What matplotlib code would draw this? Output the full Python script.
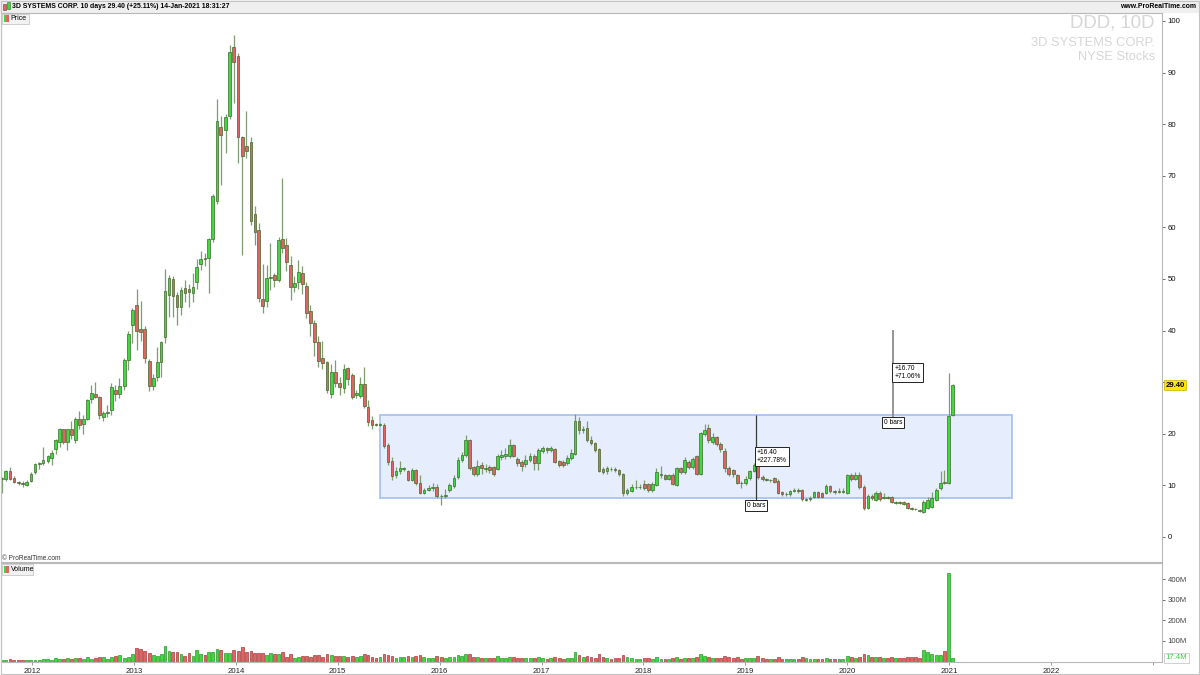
import numpy as np
import pandas as pd
import matplotlib
matplotlib.use("Agg")
import matplotlib.pyplot as plt
import matplotlib.dates as mdates
from matplotlib.patches import Rectangle
from matplotlib.ticker import FuncFormatter
from pandas.tseries.holiday import USFederalHolidayCalendar
from pandas.tseries.offsets import CustomBusinessDay

# 10-day candles, 3D Systems (DDD), last bar 14-Jan-2021
opens = [
    11.3, 11.2, 12.7, 11.4, 10.7, 10.4, 10.1, 10.9, 12.5, 14.1,
    14.3, 14.8, 15.4, 17.0, 18.4, 20.9, 18.4, 20.9, 18.7, 22.8,
    21.8, 22.9, 26.7, 27.8, 27.1, 23.3, 24.0, 24.6, 28.4, 27.8,
    29.3, 34.3, 41.1, 45.0, 40.3, 40.4, 34.1, 29.3, 31.0, 34.0,
    38.7, 46.9, 50.0, 46.9, 44.6, 48.3, 48.0, 47.3, 49.4, 52.9,
    54.1, 54.0, 57.7, 65.2, 79.4, 78.9, 81.6, 94.9, 93.3, 77.6,
    75.8, 76.6, 62.6, 59.5, 46.1, 45.8, 50.2, 50.8, 49.9, 57.7,
    56.6, 52.7, 48.5, 49.4, 51.1, 48.6, 43.8, 41.5, 37.8, 34.6,
    33.9, 27.8, 32.0, 29.9, 28.8, 32.7, 31.4, 27.5, 27.3, 29.7,
    25.1, 22.7, 21.8, 21.7, 21.7, 17.8, 14.8, 12.0, 12.7, 13.2,
    12.8, 11.0, 13.0, 10.4, 8.6, 9.2, 9.4, 9.7, 8.0, 7.9,
    9.1, 9.9, 11.6, 14.9, 15.9, 18.7, 13.5, 12.3, 13.9, 13.1,
    13.5, 13.5, 13.1, 15.5, 15.7, 15.6, 17.8, 15.1, 14.6, 14.1,
    15.0, 15.7, 14.3, 16.7, 17.3, 16.9, 17.0, 14.7, 14.6, 14.4,
    15.3, 16.1, 22.5, 20.8, 21.2, 18.8, 18.2, 17.0, 13.1, 12.7,
    13.2, 13.2, 13.0, 12.2, 8.6, 9.0, 9.6, 9.6, 10.3, 10.3,
    9.1, 10.1, 12.1, 12.0, 11.3, 12.0, 10.1, 13.3, 12.5, 14.6,
    13.5, 15.6, 12.2, 20.0, 21.1, 18.5, 19.3, 18.0, 16.7, 13.3,
    13.0, 12.0, 10.5, 10.5, 11.4, 12.8, 14.0, 11.7, 11.2, 11.0,
    11.4, 10.9, 8.8, 8.3, 8.3, 9.0, 9.2, 9.1, 7.2, 7.3,
    7.8, 8.7, 8.5, 8.5, 9.9, 8.9, 8.7, 8.8, 8.6, 12.0,
    11.2, 12.0, 9.7, 5.7, 8.0, 7.2, 8.6, 7.6, 7.8, 7.8,
    6.6, 6.8, 6.8, 6.5, 5.6, 5.5, 5.2, 4.9, 5.7, 5.8,
    7.2, 9.4, 10.7, 10.4, 23.6,
]
highs = [
    11.6, 13.0, 13.5, 11.8, 10.9, 10.8, 11.0, 12.5, 14.3, 14.6,
    17.4, 15.8, 16.8, 19.0, 21.1, 21.0, 21.0, 22.5, 23.2, 24.5,
    23.6, 26.8, 29.5, 30.0, 27.4, 24.5, 25.6, 29.9, 29.5, 30.8,
    34.7, 40.0, 44.3, 48.1, 45.8, 40.8, 34.5, 31.5, 36.8, 38.0,
    51.9, 50.8, 50.5, 47.5, 48.5, 49.8, 49.0, 51.2, 53.8, 55.5,
    55.0, 58.0, 66.5, 84.9, 81.5, 82.0, 95.3, 97.3, 93.8, 77.8,
    82.6, 77.5, 64.2, 60.8, 52.9, 52.8, 57.0, 51.2, 58.2, 69.5,
    58.0, 54.5, 50.5, 53.6, 52.5, 49.5, 45.0, 42.0, 39.0, 38.0,
    34.2, 33.5, 34.3, 31.0, 33.5, 33.0, 31.8, 28.5, 31.0, 33.0,
    26.5, 23.5, 22.0, 22.0, 22.0, 18.2, 15.5, 13.5, 14.8, 13.5,
    13.0, 13.4, 13.2, 12.0, 9.5, 10.0, 10.5, 10.2, 8.3, 9.3,
    10.4, 12.0, 15.5, 16.4, 19.8, 19.0, 13.8, 15.0, 14.5, 14.2,
    14.0, 13.8, 16.0, 16.8, 17.2, 18.9, 18.0, 15.5, 15.0, 15.8,
    16.3, 16.0, 17.2, 17.6, 17.5, 17.6, 17.3, 15.0, 14.9, 15.8,
    17.0, 23.8, 23.2, 21.5, 22.5, 19.5, 18.5, 17.3, 13.5, 13.8,
    13.5, 13.5, 13.2, 12.4, 9.5, 10.2, 11.0, 10.2, 11.0, 10.5,
    10.6, 13.3, 13.8, 12.3, 12.2, 12.4, 13.6, 13.6, 15.5, 15.0,
    15.5, 15.9, 20.4, 21.9, 21.9, 20.2, 19.6, 18.5, 17.2, 13.8,
    13.2, 12.3, 10.8, 11.8, 13.0, 14.3, 14.5, 12.0, 11.4, 11.3,
    11.6, 11.2, 9.0, 8.8, 9.2, 9.4, 9.4, 9.3, 7.6, 8.0,
    8.9, 8.9, 8.8, 10.2, 10.1, 9.2, 9.5, 9.4, 12.3, 12.4,
    12.5, 12.6, 10.0, 8.3, 8.3, 8.9, 8.9, 8.6, 8.0, 8.0,
    7.0, 7.0, 7.0, 6.7, 5.8, 5.7, 5.4, 7.2, 7.8, 8.8,
    9.4, 12.7, 13.0, 31.7, 29.6,
]
lows = [
    8.6, 10.9, 11.0, 10.5, 10.1, 9.6, 9.8, 10.7, 12.3, 13.2,
    13.9, 14.3, 13.9, 16.0, 17.5, 18.1, 16.9, 19.0, 18.3, 21.0,
    20.0, 22.6, 26.0, 26.9, 22.8, 22.4, 23.3, 23.7, 26.3, 26.9,
    28.5, 32.4, 37.6, 36.2, 38.0, 33.8, 28.2, 28.5, 30.2, 31.1,
    37.5, 42.6, 42.7, 41.1, 43.0, 45.5, 44.5, 45.5, 48.0, 51.8,
    52.5, 47.3, 57.2, 64.5, 68.2, 74.4, 81.0, 84.1, 72.5, 54.7,
    73.5, 60.5, 56.5, 45.5, 43.4, 44.5, 47.8, 48.5, 49.5, 55.0,
    51.5, 46.0, 47.5, 48.0, 47.0, 42.5, 39.0, 35.0, 33.0, 32.5,
    28.0, 27.0, 29.0, 27.5, 28.0, 29.5, 26.8, 27.0, 27.0, 25.0,
    21.5, 21.0, 21.5, 21.5, 17.2, 14.0, 11.0, 11.5, 12.3, 12.8,
    10.8, 10.8, 10.0, 8.3, 8.3, 8.9, 9.0, 7.6, 6.2, 7.6,
    8.8, 9.5, 11.2, 14.5, 15.5, 13.0, 11.8, 11.8, 12.2, 12.6,
    12.4, 11.8, 12.9, 15.0, 15.2, 15.3, 15.5, 13.8, 12.8, 13.5,
    14.5, 13.0, 13.0, 16.2, 16.3, 16.5, 14.3, 13.5, 13.6, 14.0,
    15.0, 15.8, 20.0, 20.2, 18.5, 17.8, 16.5, 12.5, 12.2, 12.3,
    12.7, 12.5, 11.8, 8.0, 8.2, 8.7, 9.3, 9.3, 9.2, 8.8,
    8.8, 9.8, 11.5, 11.0, 11.0, 10.0, 9.8, 12.2, 12.2, 13.2,
    13.2, 12.0, 12.0, 19.6, 18.3, 18.0, 17.6, 16.5, 12.5, 11.8,
    11.7, 10.2, 9.5, 10.1, 11.0, 12.5, 11.3, 10.9, 10.8, 10.7,
    10.5, 8.3, 8.0, 8.0, 8.0, 8.7, 8.6, 7.0, 6.9, 7.0,
    7.5, 7.5, 7.5, 8.3, 8.6, 8.4, 8.5, 8.6, 8.4, 10.8,
    11.0, 9.3, 5.2, 5.4, 7.2, 7.0, 7.0, 7.3, 7.3, 6.6,
    6.4, 6.3, 6.2, 5.4, 5.3, 5.2, 4.8, 4.6, 5.4, 5.6,
    7.0, 9.2, 10.3, 10.2, 23.5,
]
closes = [
    11.4, 12.7, 11.2, 10.7, 10.5, 10.3, 10.7, 12.3, 14.1, 14.3,
    14.9, 15.6, 16.3, 18.7, 20.9, 18.4, 20.9, 19.8, 22.8, 21.7,
    22.8, 26.6, 28.0, 27.2, 23.6, 24.1, 24.3, 29.1, 27.7, 29.3,
    34.3, 39.3, 43.9, 39.9, 39.8, 34.6, 29.3, 30.9, 33.9, 37.7,
    47.7, 50.2, 46.7, 44.6, 47.9, 47.3, 47.5, 48.4, 52.3, 53.8,
    53.8, 57.7, 66.1, 80.6, 78.0, 81.3, 94.0, 92.0, 77.6, 73.8,
    74.9, 61.2, 59.2, 46.3, 44.8, 50.1, 50.4, 49.9, 57.6, 56.0,
    53.2, 48.5, 49.3, 51.4, 49.0, 43.5, 41.5, 37.8, 34.2, 33.7,
    28.5, 32.0, 29.8, 29.0, 32.5, 30.6, 27.2, 28.0, 29.7, 25.3,
    22.3, 21.7, 21.7, 21.8, 17.6, 14.6, 11.8, 12.8, 13.3, 13.3,
    11.0, 12.9, 10.4, 8.6, 9.1, 9.4, 9.6, 7.9, 7.9, 8.1,
    10.1, 11.5, 14.9, 15.9, 18.8, 13.3, 12.3, 13.7, 13.3, 13.4,
    12.9, 12.2, 15.6, 15.9, 16.0, 17.8, 15.7, 14.3, 13.7, 15.0,
    15.6, 14.3, 16.9, 17.2, 16.9, 17.2, 14.6, 14.0, 14.0, 15.4,
    16.2, 22.5, 20.7, 21.0, 18.8, 18.2, 16.9, 12.8, 12.5, 13.3,
    13.1, 12.9, 12.2, 8.6, 9.1, 9.6, 9.7, 9.7, 9.4, 9.1,
    10.3, 12.5, 12.3, 11.3, 12.0, 10.3, 13.3, 12.5, 14.9, 13.5,
    15.1, 12.2, 20.1, 20.7, 18.8, 19.3, 18.0, 17.0, 13.3, 12.3,
    12.2, 10.5, 10.4, 11.2, 12.8, 14.0, 11.7, 11.2, 11.1, 11.1,
    10.7, 8.6, 8.3, 8.4, 9.0, 9.1, 9.0, 7.3, 7.4, 7.6,
    8.7, 7.8, 7.8, 9.9, 8.9, 8.7, 8.9, 9.0, 12.0, 11.2,
    12.0, 9.6, 5.6, 7.9, 7.5, 8.6, 7.3, 7.8, 7.6, 6.8,
    6.8, 6.6, 6.4, 5.6, 5.5, 5.4, 5.1, 6.8, 7.1, 7.5,
    9.2, 10.5, 10.5, 23.4, 29.4,
]
# volume in millions of shares
volumes = [
    6, 8, 10, 7, 7, 6, 5, 6, 8, 7,
    13, 10, 9, 17, 14, 13, 15, 13, 19, 15,
    14, 22, 12, 17, 20, 21, 13, 21, 27, 30,
    19, 21, 35, 66, 60, 50, 40, 30, 26, 35,
    75, 50, 45, 45, 35, 28, 40, 28, 55, 35,
    30, 45, 45, 62, 58, 42, 42, 55, 50, 72,
    45, 52, 40, 40, 40, 32, 40, 35, 35, 45,
    22, 35, 15, 22, 26, 25, 22, 30, 33, 24,
    35, 33, 25, 25, 28, 24, 25, 20, 28, 35,
    30, 22, 18, 24, 38, 33, 28, 18, 22, 20,
    25, 22, 26, 30, 20, 18, 17, 25, 22, 18,
    20, 22, 30, 26, 38, 35, 22, 20, 18, 15,
    17, 18, 25, 15, 16, 22, 20, 17, 16, 15,
    15, 18, 22, 15, 14, 16, 20, 16, 14, 15,
    16, 45, 30, 22, 25, 20, 18, 35, 20, 15,
    14, 15, 16, 30, 20, 15, 13, 14, 15, 16,
    14, 22, 14, 13, 14, 18, 20, 14, 18, 15,
    16, 22, 35, 25, 22, 18, 16, 15, 28, 20,
    17, 20, 14, 15, 16, 18, 25, 17, 13, 12,
    14, 22, 14, 12, 13, 12, 12, 22, 15, 13,
    14, 13, 14, 15, 14, 12, 13, 12, 25, 20,
    18, 22, 38, 30, 22, 20, 24, 18, 16, 20,
    15, 18, 16, 20, 22, 20, 18, 55, 45, 35,
    32, 30, 50, 430, 17.4,
]
price_ticks = [0, 10, 20, 30, 40, 50, 60, 70, 80, 90, 100]
price_tick_labels = ["0", "10", "20", "", "40", "50", "60", "70", "80", "90", "100"]
volume_ticks = [100, 200, 300, 400]
last_price = 29.40
last_volume = 17.4

# drawing tools on the chart
zone_start, zone_end = "2015-06-02", "2021-08-15"
zone_low, zone_high = 7.6, 23.6
meas1_date, meas1_low, meas1_high = "2019-02-08", 7.2, 23.6
meas2_date, meas2_low, meas2_high = "2020-06-14", 23.3, 40.1

GREEN = "#3fd83f"
RED = "#e06464"
BODY_EDGE = "#3f6a2c"
WICK = "#7f9c70"

plt.rcParams["font.family"] = ["Liberation Sans", "DejaVu Sans"]

W, H = 1200, 675


def fx(px):
    return px / W


def fy(py):
    return 1 - py / H


def px_rect(fig, x0, y0, x1, y1, **kw):
    fig.add_artist(Rectangle((fx(x0), fy(y1)), fx(x1) - fx(x0), fy(y0) - fy(y1),
                             transform=fig.transFigure, **kw))


bday10 = CustomBusinessDay(n=10, calendar=USFederalHolidayCalendar())
dates = pd.date_range(end="2021-01-14", periods=len(closes), freq=bday10)
x = mdates.date2num(dates.to_pydatetime())

o = np.array(opens)
h = np.array(highs)
l = np.array(lows)
c = np.array(closes)
v = np.array(volumes)
up = c >= o
colors = np.where(up, GREEN, RED)

fig = plt.figure(figsize=(12, 6.75), dpi=100)
ax = fig.add_axes([fx(1), fy(562), fx(1162) - fx(1), fy(13) - fy(562)])
axv = fig.add_axes([fx(1), fy(662), fx(1162) - fx(1), fy(563) - fy(662)], sharex=ax)

# header bar
px_rect(fig, 0, 0, W, 13, facecolor="#efefef", edgecolor="none", zorder=0)
px_rect(fig, 2.5, 4, 5.5, 10, facecolor=RED, edgecolor="#7a3030", lw=0.4)
px_rect(fig, 6.5, 2.5, 9.5, 9, facecolor=GREEN, edgecolor="#2f6a2c", lw=0.4)
fig.text(fx(12), fy(6.8), "3D SYSTEMS CORP. 10 days 29.40 (+25.11%) 14-Jan-2021 18:31:27",
         fontsize=4.95, fontweight="bold", va="center", ha="left")
fig.text(fx(1196), fy(6.8), "www.ProRealTime.com", fontsize=4.95, fontweight="bold",
         va="center", ha="right")

# candles
ax.vlines(x, l, h, color=WICK, lw=0.9, zorder=2)
ax.bar(x, np.abs(c - o), width=9.5, bottom=np.minimum(o, c), color=colors,
       edgecolor=BODY_EDGE, linewidth=0.5, zorder=3)

# zone rectangle
z0 = mdates.date2num(pd.Timestamp(zone_start))
z1 = mdates.date2num(pd.Timestamp(zone_end))
ax.add_patch(Rectangle((z0, zone_low), z1 - z0, zone_high - zone_low,
                       facecolor="#e6eefd", edgecolor="#a9c3f5", lw=1.3, zorder=1))

# measure lines
box = dict(boxstyle="square,pad=0.3", fc="white", ec="#222222", lw=0.7)
m1 = mdates.date2num(pd.Timestamp(meas1_date))
m2 = mdates.date2num(pd.Timestamp(meas2_date))
ax.vlines(m1, meas1_low, meas1_high, color="#3a3a3a", lw=0.9, zorder=4)
ax.vlines(m2, meas2_low, meas2_high, color="#8c8c8c", lw=1.3, zorder=4)
ax.text(m1 + 4, 17.0, "+16.40\n+227.78%", fontsize=4.8, ha="left", va="top",
        linespacing=1.1, bbox=box, zorder=5)
ax.text(m1, 6.7, "0 bars", fontsize=4.8, ha="center", va="top", bbox=box, zorder=5)
ax.text(m2 + 4, 33.3, "+16.70\n+71.06%", fontsize=4.8, ha="left", va="top",
        linespacing=1.1, bbox=box, zorder=5)
ax.text(m2, 22.8, "0 bars", fontsize=4.8, ha="center", va="top", bbox=box, zorder=5)

# volume bars
axv.bar(x, v, width=10, color=colors, edgecolor=np.where(up, "#2b9a2b", "#a83c3c"),
        linewidth=0.5)

# axes styling
ax.set_xlim(mdates.date2num(pd.Timestamp("2011-09-12")),
            mdates.date2num(pd.Timestamp("2023-02-03")))
ax.set_ylim(-4.85, 101.55)
axv.set_ylim(-2.4, 478)

for a in (ax, axv):
    for s in a.spines.values():
        s.set_color("#b8b8b8")
        s.set_linewidth(0.8)
    a.yaxis.tick_right()
    a.tick_params(axis="y", labelsize=5.6, length=2.5, width=0.6, pad=1.5,
                  colors="#555555", labelcolor="#111111")

ax.set_yticks(price_ticks)
ax.set_yticklabels(price_tick_labels)
ax.tick_params(axis="x", bottom=False, labelbottom=False)

axv.set_yticks(volume_ticks)
axv.yaxis.set_major_formatter(FuncFormatter(lambda val, pos: f"{val:.0f}M"))
axv.tick_params(axis="y", labelcolor="#444444")
axv.xaxis.set_major_locator(mdates.YearLocator())
# the 2023 tick sits at the right edge without a label
axv.xaxis.set_major_formatter(FuncFormatter(
    lambda val, pos: "" if mdates.num2date(val).year > 2022 else str(mdates.num2date(val).year)))
axv.tick_params(axis="x", labelsize=5.6, length=2.5, width=0.6, pad=1.5,
                colors="#888888", labelcolor="#222222")

# last value markers on the right axis
ax.text(1.003, last_price, "29.40", transform=ax.get_yaxis_transform(), fontsize=5.6,
        fontweight="bold", ha="left", va="center", clip_on=False,
        bbox=dict(boxstyle="square,pad=0.2", fc="#ffe600", ec="#c9b200", lw=0.5))
axv.text(1.003, last_volume, "17.4M", transform=axv.get_yaxis_transform(), fontsize=5.6,
         color="#3cc83c", ha="left", va="center", clip_on=False,
         bbox=dict(boxstyle="square,pad=0.2", fc="white", ec="#bdbdbd", lw=0.5))

# watermark
fig.text(fx(1155), fy(23), "DDD, 10D", fontsize=13.4, color="#d6d6d6", ha="right", va="center")
fig.text(fx(1155), fy(43.5), "3D SYSTEMS CORP.", fontsize=9.3, color="#d6d6d6", ha="right", va="center")
fig.text(fx(1155), fy(56.5), "NYSE Stocks", fontsize=9.3, color="#d6d6d6", ha="right", va="center")

# panel legends
px_rect(fig, 1.7, 13.5, 29.5, 24, facecolor="#f2f2f2", edgecolor="#c8c8c8", lw=0.6, zorder=5)
px_rect(fig, 3.5, 15.5, 6, 22, facecolor=GREEN, edgecolor="none", zorder=6)
px_rect(fig, 6, 15.5, 8.5, 22, facecolor=RED, edgecolor="none", zorder=6)
fig.text(fx(10.5), fy(19), "Price", fontsize=5, va="center", ha="left", zorder=6)

px_rect(fig, 1.7, 564, 33, 574.5, facecolor="#f2f2f2", edgecolor="#c8c8c8", lw=0.6, zorder=5)
px_rect(fig, 3.5, 566, 6, 572.5, facecolor=GREEN, edgecolor="none", zorder=6)
px_rect(fig, 6, 566, 8.5, 572.5, facecolor=RED, edgecolor="none", zorder=6)
fig.text(fx(10.5), fy(569.5), "Volume", fontsize=5, va="center", ha="left", zorder=6)

fig.text(fx(2), fy(558), "\u00a9 ProRealTime.com", fontsize=4.7, color="#333333",
         va="center", ha="left")

# outer frame
px_rect(fig, 0.5, 0.5, 1198.5, 673.5, fill=False, edgecolor="#c4c4c4", lw=0.8, zorder=7)

fig.savefig("out.png", dpi=100)
plt.close(fig)
